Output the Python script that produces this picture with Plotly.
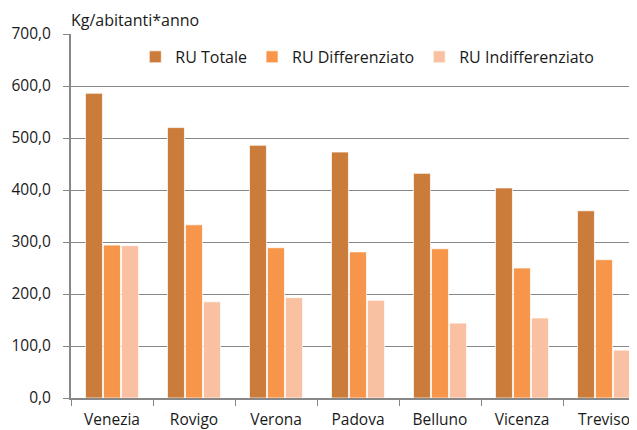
import plotly.graph_objects as go

categories = ["Venezia", "Rovigo", "Verona", "Padova", "Belluno", "Vicenza", "Treviso"]
ru_totale = [586, 520, 486, 473, 432, 404, 360]
ru_differenziato = [294, 333, 289, 281, 287, 250, 266]
ru_indifferenziato = [293, 185, 193, 188, 144, 154, 92]
series_names = ["RU Totale", "RU Differenziato", "RU Indifferenziato"]
colors = ["#CB7B3A", "#F7964A", "#F9C0A2"]
y_ticks = [0, 100, 200, 300, 400, 500, 600, 700]

FONT = "Open Sans, Lato, Liberation Sans, sans-serif"

fig = go.Figure()
for name, vals, col in zip(series_names, [ru_totale, ru_differenziato, ru_indifferenziato], colors):
    fig.add_trace(go.Bar(
        x=categories, y=vals, name=name,
        marker=dict(color=col, line=dict(color="rgba(255,255,255,0.9)", width=0.8)),
    ))

# the page body has an 8px margin, so the figure is offset by (8, 8) in the window
fig.update_layout(
    width=637, height=430,
    margin=dict(l=63, r=0, t=26, b=39.5),
    paper_bgcolor="white", plot_bgcolor="white",
    barmode="group", bargap=0.34, bargroupgap=0.06,
    separators=",.",
    font=dict(family=FONT, size=15, color="#1a1a1a"),
    showlegend=True,
    legend=dict(orientation="h", x=0.112, y=0.937, xanchor="left", yanchor="middle",
                font=dict(size=16, family=FONT), itemwidth=30, traceorder="normal",
                bgcolor="rgba(0,0,0,0)"),
    annotations=[dict(text="Kg/abitanti*anno", xref="paper", yref="paper", x=-0.003, y=1.0,
                      xanchor="left", yanchor="bottom", yshift=1, showarrow=False,
                      font=dict(size=16, family=FONT, color="#1a1a1a"))],
)
fig.update_yaxes(range=[0, 700], tickvals=y_ticks, tickformat=".1f", automargin=False,
                 showgrid=True, gridcolor="#878787", gridwidth=1.4,
                 showline=True, linecolor="#878787", linewidth=2,
                 ticks="outside", ticklen=6, tickcolor="#878787", tickwidth=1.4,
                 ticklabelstandoff=9,
                 tickfont=dict(size=15.5, family=FONT), zeroline=False)
fig.update_xaxes(range=[-0.5, 6.5], automargin=False, showline=True, linecolor="#878787", linewidth=2,
                 ticks="outside", tickson="boundaries", ticklen=6, tickcolor="#878787", tickwidth=1.4,
                 ticklabelstandoff=6,
                 tickfont=dict(size=15.5, family=FONT), showgrid=False)

fig.write_html("out.html")
